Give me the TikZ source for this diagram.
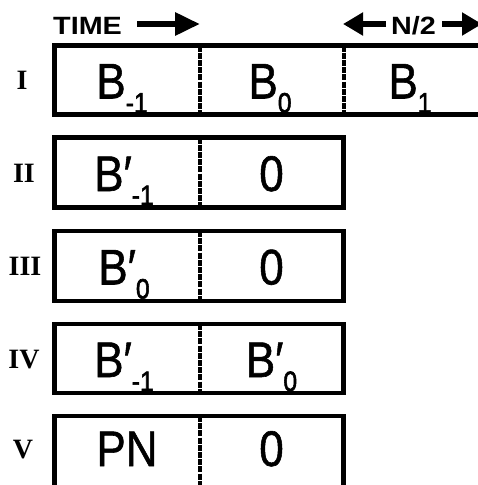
\documentclass[tikz,border=0pt]{standalone}
\usepackage{fontspec}
\setmainfont{Liberation Sans}
\newfontfamily\romanfont{Liberation Serif}
\newfontfamily\cellfont[FakeBold=1.2]{Liberation Sans}
\newfontfamily\subfont[FakeBold=2.2]{Liberation Sans}
\usetikzlibrary{arrows.meta}
\newcommand\bigtxt{\cellfont\fontsize{50}{50}\selectfont}
\newcommand\subtxt{\subfont\fontsize{28}{28}\selectfont}
\newcommand\lowsub[1]{\raisebox{-14pt}{\subtxt #1}}
\newcommand\prm{\char"2032}
\begin{document}
\begin{tikzpicture}[x=1pt,y=-1pt,
  frame/.style={line width=4.5pt, line join=miter},
  divider/.style={line width=4pt, dash pattern=on 6pt off 1.2pt},
  cell/.style={font=\bigtxt, xscale=0.88, anchor=base, inner sep=0pt},
  numeral/.style={font=\romanfont\bfseries\fontsize{28}{28}\selectfont, anchor=base, inner sep=0pt},
  head/.style={font=\bfseries\fontsize{25}{25}\selectfont, xscale=1.15, inner sep=0pt},
  bigarrow/.style={line width=6pt, -{Triangle[length=25pt,width=22pt]}},
  smallarrow/.style={line width=6pt, -{Triangle[length=20pt,width=22pt]}}
]
\useasboundingbox (0,0) rectangle (478,485);
\clip (0,0) rectangle (478,485);
% header
\node[head, anchor=base west] (time) at (53,34) {TIME};
\coordinate (ta) at (137,24);
\coordinate (tb) at (200,24);
\draw[bigarrow] (ta) -- (tb);
\node[head, anchor=base] (half) at (413.5,34) {N/2};
\coordinate (la) at (386,24);
\coordinate (lb) at (343,24);
\draw[smallarrow] (la) -- (lb);
\coordinate (ra) at (442,24);
\coordinate (rb) at (482,24);
\draw[smallarrow] (ra) -- (rb);
% row I
\draw[frame] (485,45.5) -- (54.5,45.5) -- (54.5,114.5) -- (485,114.5);
\draw[divider] (199.5,45.5) -- (199.5,114.5);
\draw[divider] (343.5,45.5) -- (343.5,114.5);
% rows II-IV
\draw[frame] (54.5,137.5) rectangle (343.5,207.5);
\draw[divider] (199.5,137.5) -- (199.5,207.5);
\draw[frame] (54.5,231) rectangle (343.5,301);
\draw[divider] (199.5,231) -- (199.5,301);
\draw[frame] (54.5,324) rectangle (343.5,393);
\draw[divider] (199.5,324) -- (199.5,393);
% row V
\draw[frame] (54.5,495) -- (54.5,416) -- (343.5,416) -- (343.5,495);
\draw[divider] (199.5,416) -- (199.5,495);
% numerals
\node[numeral] (r1) at (22,89) {I};
\node[numeral] (r2) at (24,182) {II};
\node[numeral] (r3) at (25,275.5) {III};
\node[numeral] (r4) at (24,368) {IV};
\node[numeral] (r5) at (23,458) {V};
% cell texts
\node[cell] (c11) at (122,98.5) {B\lowsub{-1}};
\node[cell] (c12) at (270,98.5) {B\lowsub{0}};
\node[cell] (c13) at (410,98.5) {B\lowsub{1}};
\node[cell] (c21) at (124,191) {B\prm\lowsub{-1}};
\node[cell] (c22) at (271.5,191) {0};
\node[cell] (c31) at (124,284.5) {B\prm\lowsub{0}};
\node[cell] (c32) at (271.5,284.5) {0};
\node[cell] (c41) at (124,377) {B\prm\lowsub{-1}};
\node[cell] (c42) at (271.5,377) {B\prm\lowsub{0}};
\node[cell] (c51) at (127,466) {PN};
\node[cell] (c52) at (271.5,466) {0};
\end{tikzpicture}
\end{document}
